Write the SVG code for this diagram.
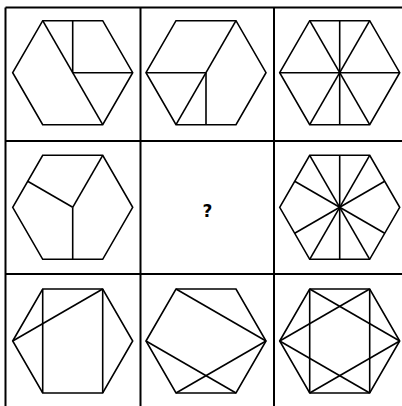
<svg xmlns="http://www.w3.org/2000/svg" width="402" height="406" viewBox="0 0 402 406">
<style>
.g{stroke:#000;stroke-width:2;fill:none}
.h{stroke:#000;stroke-width:1.6;fill:none;stroke-linejoin:miter}
.q{font-family:"DejaVu Sans","Liberation Sans",sans-serif;font-size:17px;font-weight:600;fill:#000}
</style>
<defs>
<polygon id="hex" points="-60,0 -30,-52 30,-52 60,0 30,52 -30,52"/>
</defs>
<rect width="402" height="406" fill="#fff"/>
<g id="grid" class="g">
<line x1="5.5" y1="7.5" x2="5.5" y2="406"/>
<line x1="5.5" y1="7.5" x2="402" y2="7.5"/>
<line x1="140.5" y1="7.5" x2="140.5" y2="406"/>
<line x1="274" y1="7.5" x2="274" y2="406"/>
<line x1="5.5" y1="141" x2="402" y2="141"/>
<line x1="5.5" y1="274" x2="402" y2="274"/>
</g>
<g id="c11" class="h" transform="translate(72.7,72.7)">
<use href="#hex"/>
<line x1="-30" y1="-52" x2="30" y2="52"/>
<line x1="0" y1="-52" x2="0" y2="0"/>
<line x1="0" y1="0" x2="60" y2="0"/>
</g>
<g id="c12" class="h" transform="translate(206,72.7)">
<use href="#hex"/>
<line x1="30" y1="-52" x2="-30" y2="52"/>
<line x1="0" y1="52" x2="0" y2="0"/>
<line x1="0" y1="0" x2="-60" y2="0"/>
</g>
<g id="c13" class="h" transform="translate(339.7,72.7)">
<use href="#hex"/>
<line x1="0" y1="-52" x2="0" y2="52"/>
<line x1="-60" y1="0" x2="60" y2="0"/>
<line x1="-30" y1="-52" x2="30" y2="52"/>
<line x1="30" y1="-52" x2="-30" y2="52"/>
</g>
<g id="c21" class="h" transform="translate(72.7,207.3)">
<use href="#hex"/>
<line x1="0" y1="0" x2="30" y2="-52"/>
<line x1="0" y1="0" x2="0" y2="52"/>
<line x1="0" y1="0" x2="-45" y2="-26"/>
</g>
<g id="c22">
<text class="q" x="207.5" y="216.7" text-anchor="middle">?</text>
</g>
<g id="c23" class="h" transform="translate(339.7,207.3)">
<use href="#hex"/>
<line x1="0" y1="-52" x2="0" y2="52"/>
<line x1="-30" y1="-52" x2="30" y2="52"/>
<line x1="30" y1="-52" x2="-30" y2="52"/>
<line x1="-45" y1="-26" x2="45" y2="26"/>
<line x1="45" y1="-26" x2="-45" y2="26"/>
</g>
<g id="c31" class="h" transform="translate(72.7,341)">
<use href="#hex"/>
<line x1="-30" y1="-52" x2="-30" y2="52"/>
<line x1="30" y1="-52" x2="30" y2="52"/>
<line x1="-60" y1="0" x2="30" y2="-52"/>
</g>
<g id="c32" class="h" transform="translate(206,341)">
<use href="#hex"/>
<line x1="-30" y1="-52" x2="60" y2="0"/>
<line x1="-60" y1="0" x2="30" y2="52"/>
<line x1="-30" y1="52" x2="60" y2="0"/>
</g>
<g id="c33" class="h" transform="translate(339.7,341)">
<use href="#hex"/>
<line x1="-30" y1="-52" x2="-30" y2="52"/>
<line x1="30" y1="-52" x2="30" y2="52"/>
<line x1="-60" y1="0" x2="30" y2="-52"/>
<line x1="-60" y1="0" x2="30" y2="52"/>
<line x1="60" y1="0" x2="-30" y2="-52"/>
<line x1="60" y1="0" x2="-30" y2="52"/>
</g>
</svg>
